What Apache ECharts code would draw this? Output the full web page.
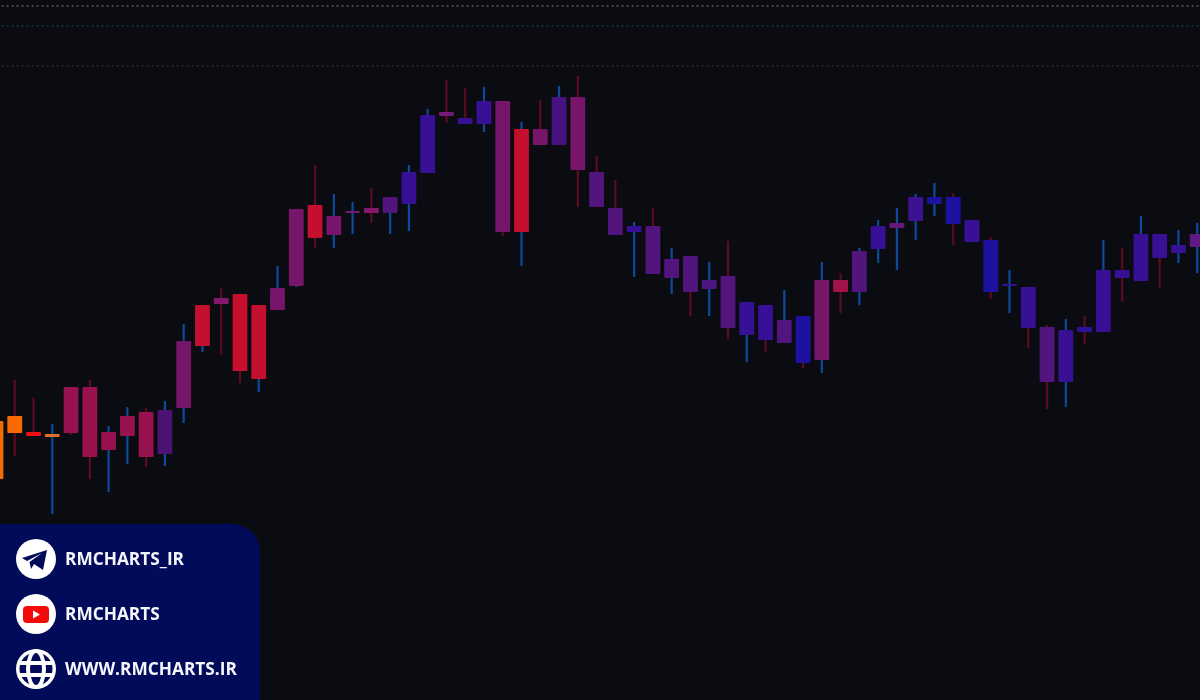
<!DOCTYPE html>
<html>
<head>
<meta charset="utf-8">
<title>RMCHARTS</title>
<style>
  html, body { margin: 0; padding: 0; background: #0a0c12; }
  #main { width: 1200px; height: 700px; }
</style>
<script src="https://cdn.jsdelivr.net/npm/echarts@6/dist/echarts.min.js"></script>
</head>
<body>
<div id="main"></div>
<script>
// prices, the scale has no labels so units are arbitrary
const bodyTop = [279,284,268,266,313,313,268,284,288,290,359,395,402,406,395,412,491,495,484,489,492,503,528,585,588,582,599,599,571,571,603,603,528,492,474,474,441,444,420,424,398,395,380,384,420,420,449,474,477,503,503,503,480,460,416,413,373,370,373,430,430,466,466,455,466];
const bodyBottom = [221,267,264,263,267,243,250,264,243,246,292,354,396,329,321,390,414,462,465,487,487,487,496,527,584,576,576,468,468,555,555,530,493,465,468,426,422,408,411,372,365,360,357,337,340,408,408,451,472,479,496,476,458,408,414,372,318,318,368,368,422,419,442,447,453];
const wickHigh = [279,320,302,276,313,320,274,293,292,299,376,395,412,406,395,434,491,535,506,498,512,503,535,591,620,612,613,599,578,600,614,624,544,520,478,492,452,444,438,459,398,395,410,384,438,427,452,480,492,506,517,507,480,463,430,413,375,381,384,460,452,484,466,470,477];
const wickLow = [221,244,264,186,265,221,208,236,233,234,277,348,345,317,308,390,413,452,452,466,477,466,469,527,577,576,568,464,434,555,555,493,493,465,423,426,406,384,384,361,338,348,357,332,327,387,395,437,430,460,484,455,458,401,387,352,291,293,356,368,398,419,412,437,427];
const levels = [694.5, 674, 634.5];
const contacts = ['RMCHARTS_IR', 'RMCHARTS', 'WWW.RMCHARTS.IR'];

// colours per candle
const ORANGE = '#f26a04', RED = '#c40f2e', ROSE = '#97124f', PLUM = '#76156a', VIOLET = '#52157e', INDIGO = '#371096', BLUE = '#1d12a0';
const bodyColors = [
  ORANGE, '#fa6900', '#ee1015', '#e0702c', ROSE, ROSE, ROSE, ROSE, ROSE, '#4c1274',
  PLUM, RED, '#87196c', RED, RED, PLUM, PLUM, RED, PLUM, '#75197a',
  '#87196c', VIOLET, INDIGO, INDIGO, '#75197a', INDIGO, INDIGO, PLUM, RED, PLUM,
  '#47127f', PLUM, VIOLET, VIOLET, INDIGO, VIOLET, VIOLET, VIOLET, '#4c1583', VIOLET,
  INDIGO, INDIGO, VIOLET, BLUE, PLUM, '#a2134c', VIOLET, INDIGO, '#66177b', '#3c1290',
  BLUE, BLUE, INDIGO, BLUE, INDIGO, INDIGO, VIOLET, INDIGO, '#2e109a', INDIGO,
  INDIGO, INDIGO, INDIGO, INDIGO, '#601983'
];
const WICK_B = '#0c4a9c', WICK_R = '#5e0a22';
const wickColors = 'rrrbrrbbrbbbrrbbbrbbrbbbrrbrbrbrrrbrbrbrbrbrbrbbbbbrbrbrrbrbrbrbb'.split('');

const categories = bodyTop.map((_, i) => i + 1);
const rows = categories.map((c, i) => [i, wickHigh[i], wickLow[i], bodyTop[i], bodyBottom[i]]);

const renderCandle = (params, api) => {
  const i = api.value(0);
  const high = api.coord([i, api.value(1)]);
  const low = api.coord([i, api.value(2)]);
  const top = api.coord([i, api.value(3)]);
  const bottom = api.coord([i, api.value(4)]);
  const bodyWidth = api.size([1, 0])[0] * 0.79;
  return {
    type: 'group',
    children: [
      {
        type: 'line',
        shape: { x1: high[0], y1: high[1], x2: low[0], y2: low[1] },
        style: { stroke: wickColors[i] === 'b' ? WICK_B : WICK_R, lineWidth: 2.2 }
      },
      {
        type: 'rect',
        shape: { x: top[0] - bodyWidth / 2, y: top[1], width: bodyWidth, height: bottom[1] - top[1], r: 1 },
        style: { fill: bodyColors[i] }
      }
    ]
  };
};

const PANEL = '#020b5a';
const FONT = '"Open Sans", "Noto Sans", sans-serif';
const rowY = [559, 614, 669];

const contactText = contacts.map((label, i) => ({
  type: 'text',
  x: 65,
  y: rowY[i] + 1.5,
  style: { text: label, fill: '#f4f6fb', font: '700 17.3px ' + FONT, textVerticalAlign: 'middle' }
}));

const iconDiscs = rowY.map(y => ({
  type: 'circle',
  shape: { cx: 36, cy: y, r: 20 },
  style: { fill: '#ffffff' }
}));

const telegramIcon = {
  type: 'polygon',
  shape: { points: [[22, 558], [47, 550], [43, 570], [34, 564], [31, 569], [29.5, 562], [42, 553], [27, 561]] },
  style: { fill: PANEL }
};

const youtubeIcon = [
  { type: 'rect', shape: { x: 23, y: 606, width: 26, height: 17, r: 4 }, style: { fill: '#f50a0a' } },
  { type: 'polygon', shape: { points: [[33, 610.5], [40, 614.5], [33, 618.5]] }, style: { fill: '#ffffff' } }
];

const globeIcon = [
  { type: 'circle', shape: { cx: 36, cy: 669, r: 16.5 }, style: { fill: PANEL } },
  { type: 'ellipse', shape: { cx: 36, cy: 669, rx: 8, ry: 18 }, style: { fill: 'none', stroke: '#ffffff', lineWidth: 4 } },
  { type: 'line', shape: { x1: 18, y1: 663, x2: 54, y2: 663 }, style: { stroke: '#ffffff', lineWidth: 4 } },
  { type: 'line', shape: { x1: 18, y1: 675, x2: 54, y2: 675 }, style: { stroke: '#ffffff', lineWidth: 4 } }
];

const option = {
  backgroundColor: '#0a0c12',
  animation: false,
  grid: { left: -13.4, top: 0, width: 1220, height: 700, outerBoundsMode: 'none' },
  xAxis: { type: 'category', data: categories, show: false },
  yAxis: { type: 'value', min: 0, max: 700, show: false, splitLine: { show: false } },
  series: [
    {
      type: 'custom',
      name: 'Candles',
      renderItem: renderCandle,
      data: rows,
      encode: { x: 0, y: [1, 2, 3, 4] },
      clip: false,
      markLine: {
        silent: true,
        symbol: 'none',
        label: { show: false },
        data: [
          { yAxis: levels[0], lineStyle: { color: '#5c5c62', type: [2, 3], width: 1.5 } },
          { yAxis: levels[1], lineStyle: { color: '#123c3a', type: [2, 3], width: 1.5 } },
          { yAxis: levels[2], lineStyle: { color: '#2e2e32', type: [2, 3], width: 1.5 } }
        ]
      }
    }
  ],
  graphic: {
    elements: [
      {
        type: 'rect',
        shape: { x: 0, y: 524, width: 260, height: 176, r: [0, 28, 0, 0] },
        style: { fill: PANEL }
      },
      ...iconDiscs,
      telegramIcon,
      ...youtubeIcon,
      ...globeIcon,
      ...contactText
    ]
  }
};

const myChart = echarts.init(document.getElementById('main'));
myChart.setOption(option);
</script>
</body>
</html>
